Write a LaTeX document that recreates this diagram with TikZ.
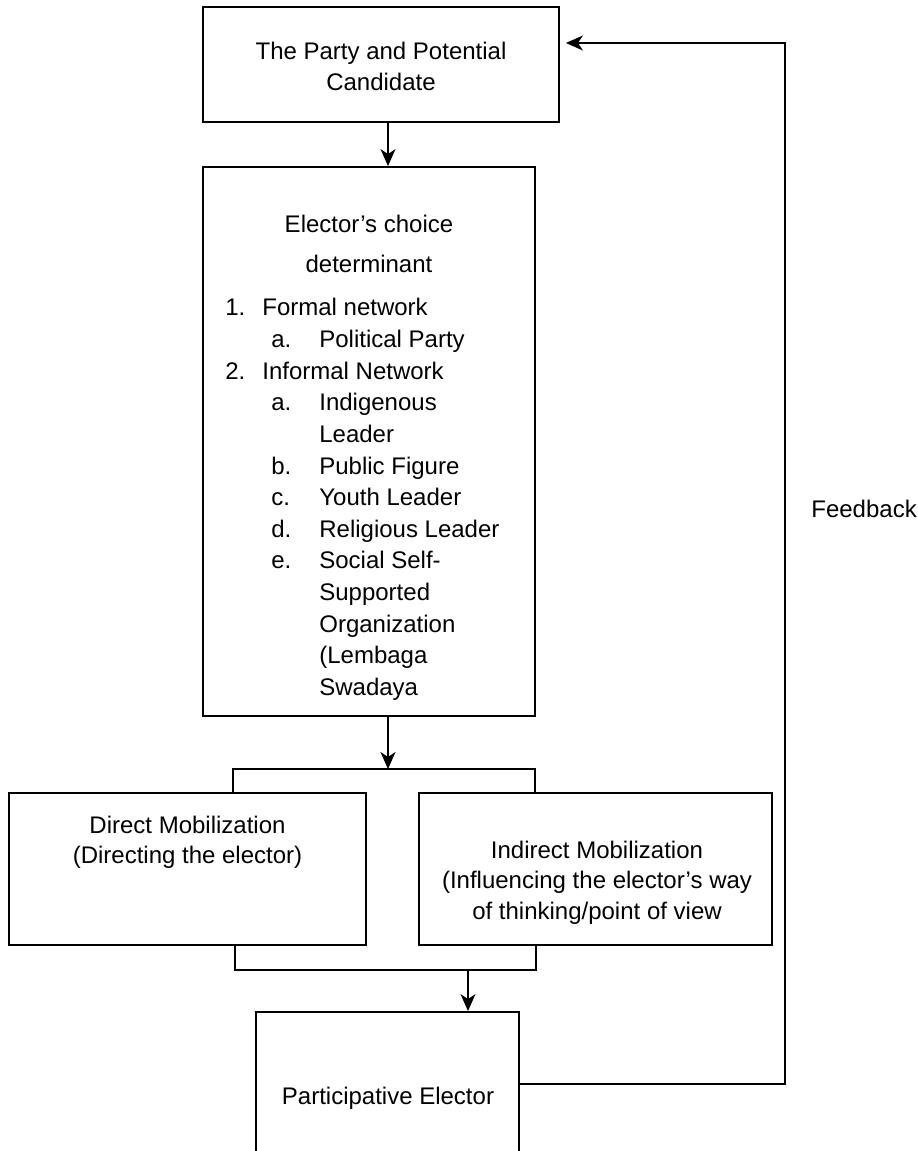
\documentclass[tikz,border=0pt]{standalone}
\usepackage{fontspec}
\setmainfont{Liberation Sans}
\usetikzlibrary{arrows.meta}

\tikzset{
  box/.style={draw,line width=1.1pt,inner sep=0pt},
  txt/.style={inner sep=0pt,align=center},
  item/.style={inner sep=0pt,anchor=base west},
  link/.style={line width=0.9pt}
}

\begin{document}
\begin{tikzpicture}[x=0.02cm,y=-0.02cm,>={Stealth[length=3.4mm,width=3mm,inset=1mm]},font=\fontsize{13.66pt}{17.5pt}\selectfont,line cap=round]
\useasboundingbox (0,0) rectangle (918,1151);
\clip (0,0) rectangle (918,1151);
% boxes
\node[box,minimum width=7.12cm,minimum height=2.3cm] (party) at (381,64.5) {};
\node[box,minimum width=6.64cm,minimum height=10.98cm] (det) at (369,441.5) {};
\node[box,minimum width=7.14cm,minimum height=3.04cm] (direct) at (187.5,869) {};
\node[box,minimum width=7.06cm,minimum height=3.04cm] (indirect) at (595.5,869) {};
\node[box,minimum width=5.26cm,minimum height=3.44cm] (elector) at (387.5,1098) {};
% texts
\node[txt,anchor=north] (partytxt) at (381,42) {The Party and Potential\\Candidate};
\node[txt,anchor=base] (dettitle1) at (369,233) {Elector’s choice};
\node[txt,anchor=base] (dettitle2) at (369,273) {determinant};
\node[item] (num1) at (225,316) {1.};
\node[item] (net1) at (262,316) {Formal network};
\node[item] (sub1a) at (271,347.6) {a.};
\node[item] (formal1) at (319,347.6) {Political Party};
\node[item] (num2) at (225,379.2) {2.};
\node[item] (net2) at (262,379.2) {Informal Network};
\node[item] (sub2a) at (271,410.8) {a.};
\node[item] (informal1) at (319,410.8) {Indigenous};
\node[item] (informal1b) at (319,442.4) {Leader};
\node[item] (sub2b) at (271,474) {b.};
\node[item] (informal2) at (319,474) {Public Figure};
\node[item] (sub2c) at (271,505.6) {c.};
\node[item] (informal3) at (319,505.6) {Youth Leader};
\node[item] (sub2d) at (271,537.2) {d.};
\node[item] (informal4) at (319,537.2) {Religious Leader};
\node[item] (sub2e) at (271,568.8) {e.};
\node[item] (informal5) at (319,568.8) {Social Self-};
\node[item] (informal5b) at (319,600.4) {Supported};
\node[item] (informal5c) at (319,632) {Organization};
\node[item] (informal5d) at (319,663.6) {(Lembaga};
\node[item] (informal5e) at (319,695.2) {Swadaya};
\node[txt,anchor=north] (directtxt) at (187.5,815.5) {Direct Mobilization\\(Directing the elector)};
\node[txt,anchor=north] (indirecttxt) at (597,840.5) {Indirect Mobilization\\(Influencing the elector’s way\\of thinking/point of view};
\node[txt,anchor=base] (electortxt) at (388,1104) {Participative Elector};
\node[txt,anchor=base west] (feedbacktxt) at (811,517) {Feedback};
% connectors
\coordinate (split) at (388,769);
\coordinate (join) at (468,970);
\coordinate (fb) at (785,43);
\draw[link,->] ([xshift=0.14cm]party.south) -- ([xshift=0.38cm]det.north);
\draw[link,->] ([xshift=0.38cm]det.south) -- (split);
\draw[link] ([xshift=0.91cm]direct.north) |- (split) -| ([xshift=-1.21cm]indirect.north);
\draw[link] ([xshift=0.95cm]direct.south) |- (join) -| ([xshift=-1.19cm]indirect.south);
\draw[link,->] (join) -- (join |- elector.north);
\draw[link,->,shorten >=0.12cm] ([yshift=0.28cm]elector.east) -| (fb) -- (party.east |- fb);
\end{tikzpicture}
\end{document}
